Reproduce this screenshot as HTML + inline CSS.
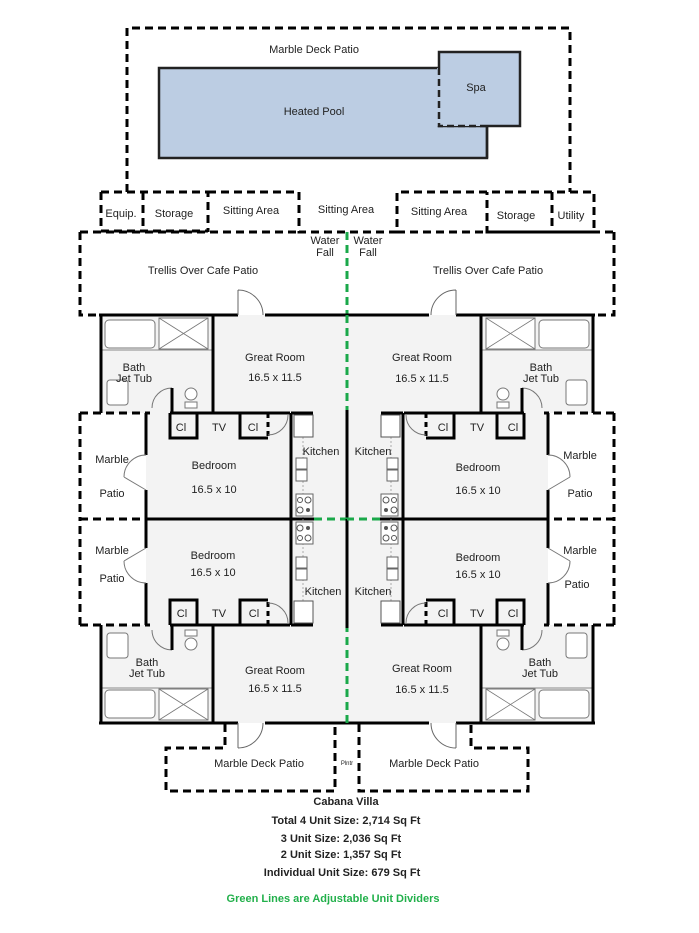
<!DOCTYPE html>
<html><head><meta charset="utf-8"><style>
html,body{margin:0;padding:0;background:#fff;}
svg{display:block;}
text{font-family:"Liberation Sans",Arial,sans-serif;font-size:11px;fill:#222;text-anchor:middle;}
.b{font-weight:bold;font-size:11px;}
</style></head><body>
<svg width="699" height="933" viewBox="0 0 699 933" xmlns="http://www.w3.org/2000/svg">
<defs>
<g id="q">
  <!-- fills -->
  <rect x="101" y="315" width="112" height="98" fill="#f3f3f3"/>
  <rect x="213" y="315" width="134" height="98" fill="#f3f3f3"/>
  <rect x="146" y="413" width="201" height="106" fill="#f3f3f3"/>
  <!-- bath fixtures -->
  <rect x="105" y="320" width="50" height="28" rx="4" fill="#fff" stroke="#777" stroke-width="1"/>
  <rect x="159" y="318" width="49" height="31" fill="#fff" stroke="#777" stroke-width="1"/>
  <path d="M159 318 L208 349 M208 318 L159 349" stroke="#777" stroke-width="0.8"/>
  <line x1="101" y1="350" x2="213" y2="350" stroke="#888" stroke-width="1"/>
  <rect x="107" y="380" width="21" height="25" rx="3" fill="#fff" stroke="#777" stroke-width="1"/>
  <circle cx="191" cy="394" r="6" fill="#fff" stroke="#777" stroke-width="1"/>
  <rect x="185" y="402" width="12" height="6" fill="#fff" stroke="#777" stroke-width="1"/>
  <path d="M172 388 A20 20 0 0 0 152 408" fill="none" stroke="#777" stroke-width="1"/>
  <!-- walls -->
  <g stroke="#000" stroke-width="3" fill="none">
    <path d="M99 315 L238 315 M265 315 L347 315"/>
    <path d="M101 315 L101 413 M213 315 L213 413"/>
    <path d="M146 413 L150 413 M170 413 L290 413 M291 413 L313 413"/>
    <path d="M172 388 L172 413"/>
    <path d="M146 413 L146 455 M146 490 L146 519"/>
    <path d="M291 413 L291 519 M347 410 L347 519"/>
    <path d="M146 519 L314 519"/>
    <path d="M170 413 L170 438 L197 438 L197 413 M240 413 L240 438 L268 438"/>
    <path d="M268 413 L268 438" stroke-dasharray="5,4"/>
    <path d="M170 413 L170 438" stroke-dasharray="5,4"/>
  </g>
  <path d="M238 290 L238 315 M238 290 A25 25 0 0 1 263 315" fill="none" stroke="#666" stroke-width="1"/>
  <path d="M268 435 A20 20 0 0 0 288 415" fill="none" stroke="#777" stroke-width="1"/>
  <path d="M146 455 A22 22 0 0 0 124 477 M146 490 L124 477" fill="none" stroke="#777" stroke-width="1"/>
  <!-- kitchen -->
  <line x1="303" y1="437" x2="303" y2="519" stroke="#999" stroke-width="0.8" stroke-dasharray="2,2"/>
  <rect x="294" y="415" width="19" height="22" fill="#fff" stroke="#555" stroke-width="1"/>
  <rect x="296" y="458" width="11" height="11" fill="#fff" stroke="#666" stroke-width="1"/>
  <rect x="296" y="470" width="11" height="11" fill="#fff" stroke="#666" stroke-width="1"/>
  <rect x="296" y="494" width="17" height="22" fill="#fff" stroke="#666" stroke-width="1"/>
  <circle cx="300" cy="500" r="2.5" fill="none" stroke="#555"/><circle cx="308" cy="500" r="3" fill="none" stroke="#555"/>
  <circle cx="300" cy="510" r="3" fill="none" stroke="#555"/><circle cx="308" cy="510" r="2" fill="#555"/>
  <!-- patio -->
  <path d="M80 413 L146 413 M80 413 L80 519 M80 519 L146 519" stroke="#000" stroke-width="3" fill="none" stroke-dasharray="8,5"/>
  <path d="M314 519 L347 519 M347 315 L347 410" stroke="#1aa84a" stroke-width="3" fill="none" stroke-dasharray="8,5"/>
</g>
</defs>

<!-- top area -->
<g stroke="#000" stroke-width="3" fill="none" stroke-dasharray="8,5">
  <path d="M127 192 L127 28 L570 28 L570 192"/>
  <path d="M101 192 L208 192 L208 232 M101 192 L101 231 L208 231 M143 192 L143 231"/>
  <path d="M208 192 L299 192 L299 232 L397 232 L397 192 L594 192 L594 232 L487 232 L487 192 M552 192 L552 232"/>
  <path d="M80 232 L299 232 M397 232 L614 232 M80 232 L80 315 L101 315 M614 232 L614 315 L594 315"/>
</g>
<rect x="159" y="68" width="328" height="90" fill="#bccde3" stroke="#222" stroke-width="2.5"/>
<rect x="439" y="52" width="81" height="74" fill="#bccde3" stroke="#222" stroke-width="2.5"/>
<rect x="437" y="68" width="50" height="58" fill="#bccde3"/>
<path d="M439 68 L439 126 L487 126" stroke="#222" stroke-width="2.5" fill="none" stroke-dasharray="7,4"/>
<path d="M487 126 L487 158" stroke="#222" stroke-width="2.5"/>
<path d="M347 232 L347 315" stroke="#1aa84a" stroke-width="3" stroke-dasharray="8,5"/>

<use href="#q"/>
<use href="#q" transform="translate(694,0) scale(-1,1)"/>
<use href="#q" transform="translate(0,1038) scale(1,-1)"/>
<use href="#q" transform="translate(694,1038) scale(-1,-1)"/>

<!-- bottom decks -->
<g stroke="#000" stroke-width="3" fill="none" stroke-dasharray="8,5">
  <path d="M225 724 L225 748 L166 748 L166 791 L335 791 L335 724"/>
  <path d="M359 724 L359 791 L528 791 L528 748 L471 748 L471 724"/>
</g>

<text x="314" y="53">Marble Deck Patio</text>
<text x="314" y="115">Heated Pool</text>
<text x="476" y="91">Spa</text>
<text x="121" y="217">Equip.</text>
<text x="174" y="217">Storage</text>
<text x="251" y="214">Sitting Area</text>
<text x="346" y="213">Sitting Area</text>
<text x="439" y="215">Sitting Area</text>
<text x="516" y="219">Storage</text>
<text x="571" y="219">Utility</text>
<text x="325" y="244">Water</text><text x="325" y="256">Fall</text>
<text x="368" y="244">Water</text><text x="368" y="256">Fall</text>
<text x="203" y="274">Trellis Over Cafe Patio</text>
<text x="488" y="274">Trellis Over Cafe Patio</text>
<text x="275" y="361">Great Room</text><text x="275" y="381">16.5 x 11.5</text>
<text x="422" y="361">Great Room</text><text x="422" y="382">16.5 x 11.5</text>
<text x="134" y="371">Bath</text><text x="134" y="382">Jet Tub</text>
<text x="541" y="371">Bath</text><text x="541" y="382">Jet Tub</text>
<text x="181" y="431">Cl</text><text x="219" y="431">TV</text><text x="253" y="431">Cl</text>
<text x="443" y="431">Cl</text><text x="477" y="431">TV</text><text x="513" y="431">Cl</text>
<text x="321" y="455">Kitchen</text><text x="373" y="455">Kitchen</text>
<text x="214" y="469">Bedroom</text><text x="214" y="493">16.5 x 10</text>
<text x="478" y="471">Bedroom</text><text x="478" y="494">16.5 x 10</text>
<text x="112" y="463">Marble</text><text x="112" y="497">Patio</text>
<text x="580" y="459">Marble</text><text x="580" y="497">Patio</text>
<text x="112" y="554">Marble</text><text x="112" y="582">Patio</text>
<text x="213" y="559">Bedroom</text><text x="213" y="576">16.5 x 10</text>
<text x="478" y="561">Bedroom</text><text x="478" y="578">16.5 x 10</text>
<text x="580" y="554">Marble</text><text x="577" y="588">Patio</text>
<text x="323" y="595">Kitchen</text><text x="373" y="595">Kitchen</text>
<text x="182" y="617">Cl</text><text x="219" y="617">TV</text><text x="254" y="617">Cl</text>
<text x="443" y="617">Cl</text><text x="477" y="617">TV</text><text x="513" y="617">Cl</text>
<text x="147" y="666">Bath</text><text x="147" y="677">Jet Tub</text>
<text x="540" y="666">Bath</text><text x="540" y="677">Jet Tub</text>
<text x="275" y="674">Great Room</text><text x="275" y="692">16.5 x 11.5</text>
<text x="422" y="672">Great Room</text><text x="422" y="693">16.5 x 11.5</text>
<text x="259" y="767">Marble Deck Patio</text>
<text x="347" y="765" style="font-size:6px">Plntr</text>
<text x="434" y="767">Marble Deck Patio</text>
<text class="b" x="346" y="805">Cabana Villa</text>
<text class="b" x="346" y="824">Total 4 Unit Size: 2,714 Sq Ft</text>
<text class="b" x="341" y="842">3 Unit Size: 2,036 Sq Ft</text>
<text class="b" x="341" y="858">2 Unit Size: 1,357 Sq Ft</text>
<text class="b" x="342" y="876">Individual Unit Size: 679 Sq Ft</text>
<text class="b" x="333" y="902" style="fill:#22b04b">Green Lines are Adjustable Unit Dividers</text>
</svg>
</body></html>
